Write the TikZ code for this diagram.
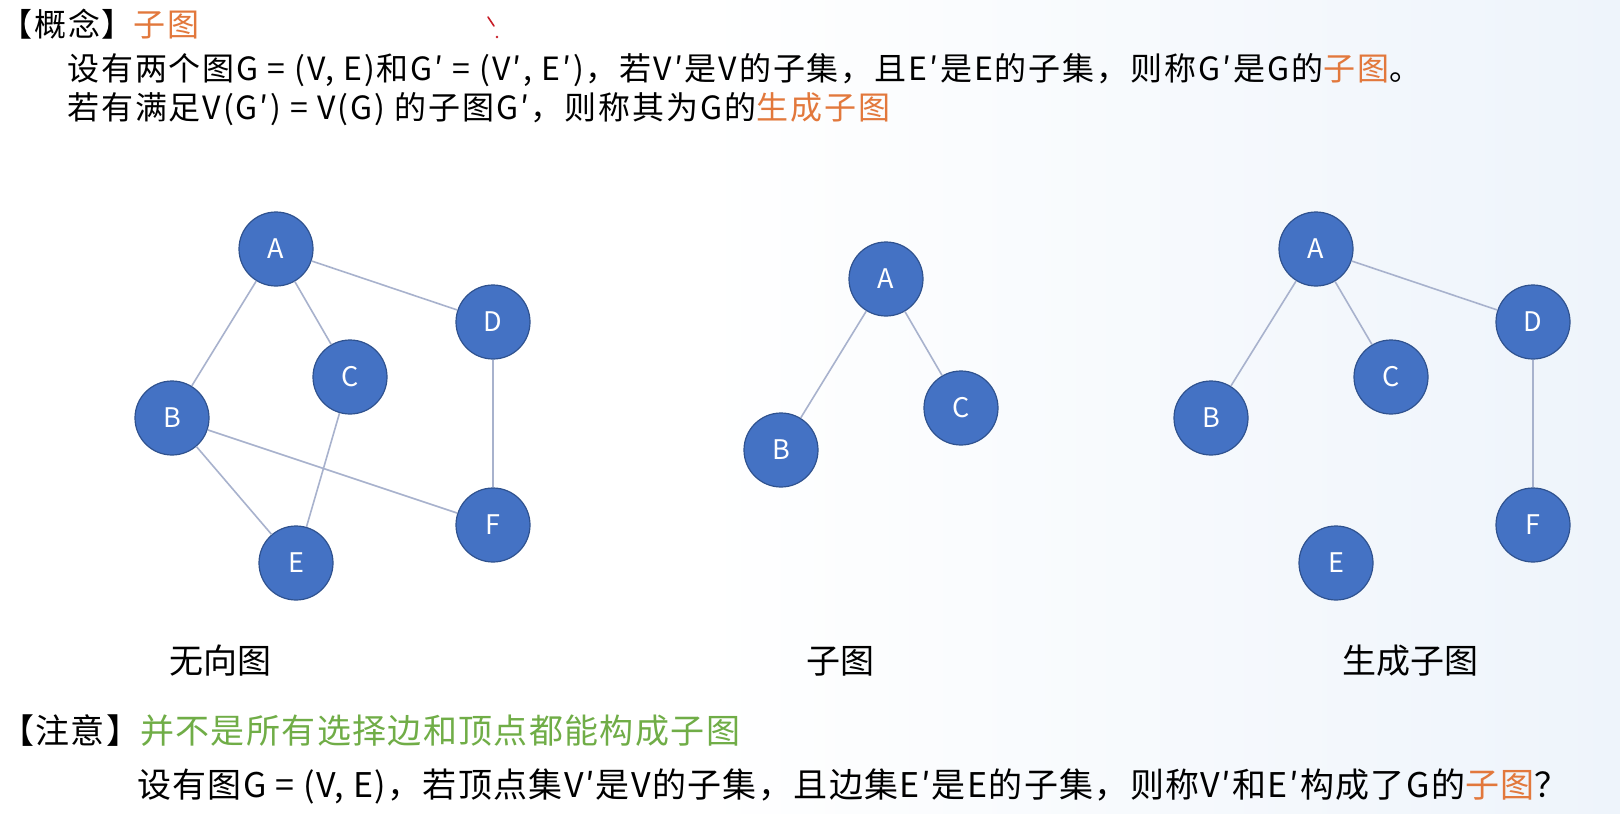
\documentclass[tikz,border=0pt]{standalone}
\usepackage{fontspec}
\setmainfont{Noto Sans CJK SC}
\newfontfamily\cjk{Noto Sans CJK SC}
\newfontfamily\cjkwide[LetterSpace=4]{Noto Sans CJK SC}
\newfontfamily\cjkwider[LetterSpace=6]{Noto Sans CJK SC}
\definecolor{nodeblue}{RGB}{68,114,196}
\definecolor{nodeborder}{RGB}{47,82,143}
\definecolor{edgecol}{RGB}{168,178,205}
\definecolor{orangetxt}{RGB}{226,120,60}
\definecolor{greentxt}{RGB}{112,173,71}
\definecolor{bgblue}{RGB}{238,244,251}
\definecolor{marker}{RGB}{200,30,40}
\tikzset{
  vertex/.style={circle, fill=nodeblue, draw=nodeborder, line width=1.2pt, minimum size=74pt, inner sep=0pt, text=white, font=\cjk\fontsize{27}{27}\selectfont},
  edge/.style={draw=edgecol, line width=1.6pt},
  toptext/.style={anchor=west, inner sep=0pt, font=\cjkwider\fontsize{32}{38}\selectfont},
  captext/.style={anchor=center, inner sep=0pt, font=\cjk\fontsize{34}{40}\selectfont},
  bottext/.style={anchor=west, inner sep=0pt, font=\cjkwide\fontsize{34}{40}\selectfont}
}
\begin{document}
\begin{tikzpicture}[x=1pt,y=-1pt]
\useasboundingbox (0,0) rectangle (1620,814);
\fill[white] (0,0) rectangle (700,814);
\shade[left color=white, right color=bgblue] (699,0) rectangle (1620,814);

% texts
\node[toptext] (t1) at (0,24) {【概念】\textcolor{orangetxt}{子图}};
\node[toptext] (t2) at (67,70) {设有两个图G = (V, E)和G′ = (V′, E′)，若V′是V的子集，且E′是E的子集，则称G′是G的\textcolor{orangetxt}{子图}。};
\node[toptext] (t3) at (67,109) {若有满足V(G′) = V(G) 的子图G′，则称其为G的\textcolor{orangetxt}{生成子图}};

% red marker
\draw[marker, line width=1.6pt, line cap=round] (488,17) -- (494,26);
\fill[marker] (497,37) circle (1.3);

% left graph
\node[vertex] (lA) at (276,249) {A};
\node[vertex] (lD) at (493,322) {D};
\node[vertex] (lC) at (350,377) {C};
\node[vertex] (lB) at (172,418) {B};
\node[vertex] (lF) at (493,525) {F};
\node[vertex] (lE) at (296,563) {E};
\draw[edge] (lA) -- (lB);
\draw[edge] (lA) -- (lC);
\draw[edge] (lA) -- (lD);
\draw[edge] (lB) -- (lF);
\draw[edge] (lB) -- (lE);
\draw[edge] (lC) -- (lE);
\draw[edge] (lD) -- (lF);

% middle graph
\node[vertex] (mA) at (886,279) {A};
\node[vertex] (mB) at (781,450) {B};
\node[vertex] (mC) at (961,408) {C};
\draw[edge] (mA) -- (mB);
\draw[edge] (mA) -- (mC);

% right graph
\node[vertex] (rA) at (1316,249) {A};
\node[vertex] (rD) at (1533,322) {D};
\node[vertex] (rC) at (1391,377) {C};
\node[vertex] (rB) at (1211,418) {B};
\node[vertex] (rF) at (1533,525) {F};
\node[vertex] (rE) at (1336,563) {E};
\draw[edge] (rA) -- (rB);
\draw[edge] (rA) -- (rC);
\draw[edge] (rA) -- (rD);
\draw[edge] (rD) -- (rF);

% captions
\node[captext] (cap1) at (220,661) {无向图};
\node[captext] (cap2) at (840,661) {子图};
\node[captext] (cap3) at (1410,661) {生成子图};

% bottom notes
\node[bottext] (n1) at (0,731) {【注意】\textcolor{greentxt}{并不是所有选择边和顶点都能构成子图}};
\node[bottext] (n2) at (137,786) {设有图G = (V, E)，若顶点集V′是V的子集，且边集E′是E的子集，则称V′和E′构成了G的\textcolor{orangetxt}{子图}？};
\end{tikzpicture}
\end{document}
